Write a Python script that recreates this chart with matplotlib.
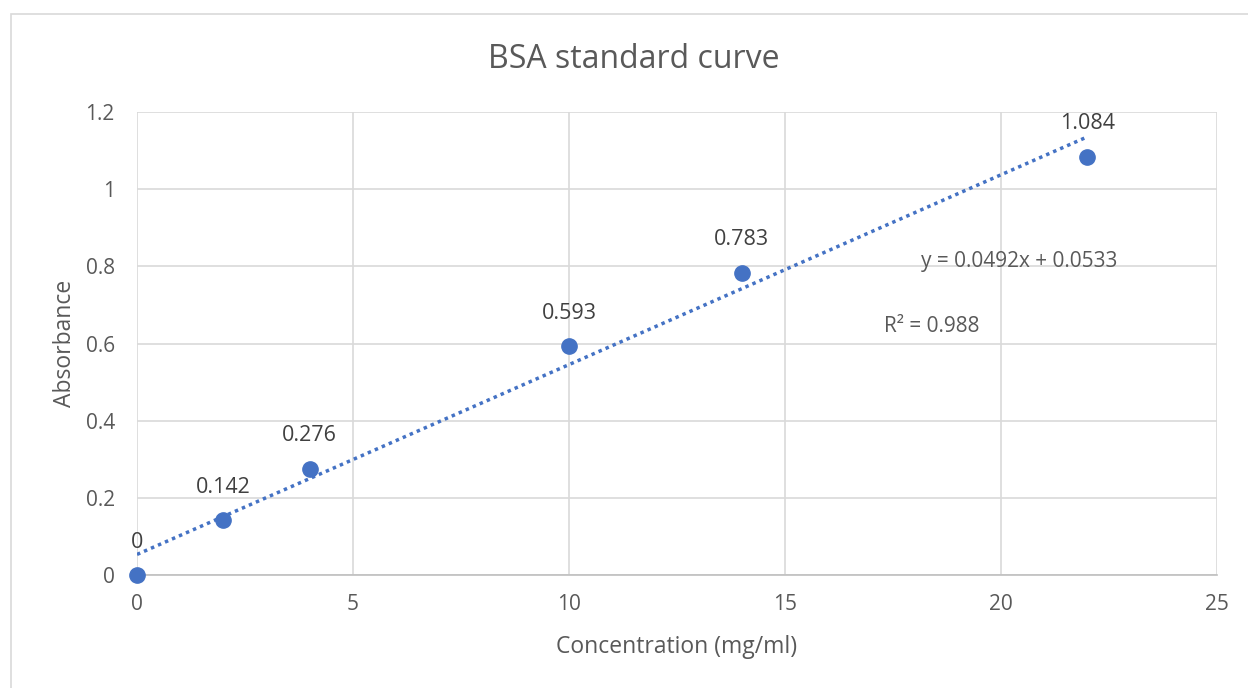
import matplotlib
matplotlib.use("Agg")
import matplotlib.pyplot as plt
import numpy as np
from matplotlib.patches import Rectangle

concentration = [0, 2, 4, 10, 14, 22]
absorbance = [0, 0.142, 0.276, 0.593, 0.783, 1.084]
point_labels = ["0", "0.142", "0.276", "0.593", "0.783", "1.084"]
slope, intercept = 0.0492, 0.0533
equation_text = "y = 0.0492x + 0.0533"
r2_text = "R² = 0.988"

plt.rcParams['font.family'] = ['Open Sans', 'DejaVu Sans']
txt = '#595959'
blue = '#4472C4'

fig = plt.figure(figsize=(12.48, 6.88), dpi=100)
fig.patches.append(Rectangle((11/1248, -0.05), 1.2, (688-14)/688 + 0.05,
                             transform=fig.transFigure, fill=False,
                             edgecolor='#D9D9D9', linewidth=1.2))
ax = fig.add_axes([137/1248, (688-575)/688, 1080/1248, 463/688])

ax.set_xlim(0, 25)
ax.set_ylim(0, 1.2)
ax.set_xticks([0, 5, 10, 15, 20, 25])
ax.set_yticks([0, 0.2, 0.4, 0.6, 0.8, 1.0, 1.2])
ax.set_yticklabels(["0", "0.2", "0.4", "0.6", "0.8", "1", "1.2"])
ax.grid(True, color='#D9D9D9', linewidth=1.2)
ax.set_axisbelow(True)
for s in ['top', 'right', 'left']:
    ax.spines[s].set_visible(False)
ax.spines['bottom'].set_color('#BFBFBF')
ax.spines['bottom'].set_linewidth(1.2)
ax.tick_params(length=0, labelsize=15, colors=txt)
ax.tick_params(axis='x', pad=14)
ax.tick_params(axis='y', pad=16)

xs = np.array([concentration[0], concentration[-1]])
ax.plot(xs, slope*xs + intercept, linestyle=(0, (1, 1.2)), color=blue,
        linewidth=2.5, zorder=2)
ax.plot(concentration, absorbance, 'o', color=blue, markersize=11, zorder=3,
        clip_on=False)
for x, y, l in zip(concentration, absorbance, point_labels):
    ax.annotate(l, (x, y), xytext=(0, 33), textcoords='offset pixels',
                ha='center', va='center', fontsize=15.5, color='#404040', zorder=4)

ax.text(1019, 688-261, equation_text, transform=None, ha='center', va='center',
        fontsize=15, color=txt)
ax.text(932, 688-327, r2_text, transform=None, ha='center', va='center',
        fontsize=15, color=txt)

fig.text(634/1248, 1 - 60/688, "BSA standard curve", fontsize=23, color=txt,
         ha='center', va='center')
ax.set_xlabel("Concentration (mg/ml)", fontsize=16.5, color=txt, labelpad=14)
ax.set_ylabel("Absorbance", fontsize=16.5, color=txt, labelpad=6)

fig.savefig("out.png", dpi=100)
